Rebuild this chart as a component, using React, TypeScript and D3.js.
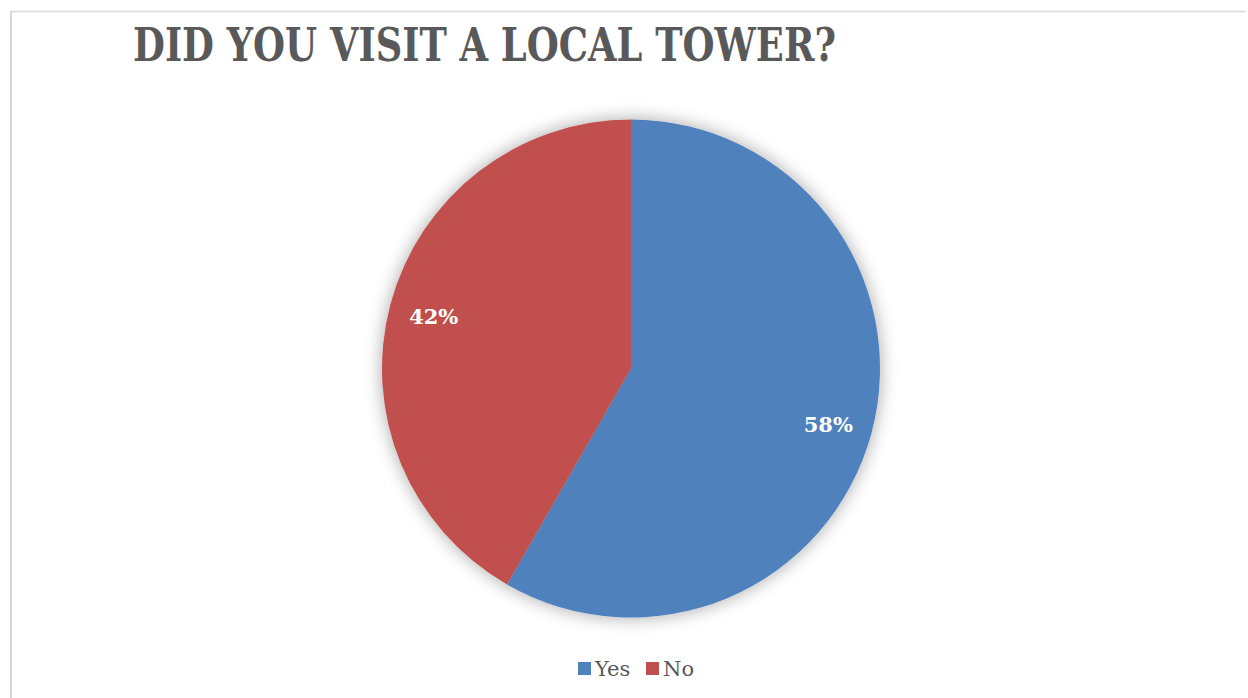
import React from "react";
import * as d3 from "d3";

const categories = ["Yes", "No"];
const values = [58.3, 41.7];
const colors = ["#4F81BD", "#C0504D"];
const titleText = "DID YOU VISIT A LOCAL TOWER?";

export default function App() {
  const W = 1248, H = 698;
  const cx = 631, cy = 368.5, R = 249;
  const pie = d3.pie<number>().sort(null).value((d) => d);
  const arcs = pie(values);
  const arcGen = d3.arc<d3.PieArcDatum<number>>().innerRadius(0).outerRadius(R);
  const labelArc = d3.arc<d3.PieArcDatum<number>>().innerRadius(R * 0.82).outerRadius(R * 0.82);
  const total = d3.sum(values);
  const legendX = [578, 646];
  return (
    <svg width={W} height={H} style={{ position: "absolute", left: 0, top: 0 }}>
      <defs>
        <filter id="sh" x="-30%" y="-30%" width="160%" height="160%">
          <feGaussianBlur in="SourceAlpha" stdDeviation="9" />
          <feComponentTransfer><feFuncA type="linear" slope="0.35" /></feComponentTransfer>
          <feMerge><feMergeNode /><feMergeNode in="SourceGraphic" /></feMerge>
        </filter>
      </defs>
      <rect x={0} y={0} width={W} height={H} fill="#fff" />
      <line x1={10} y1={11.5} x2={1246} y2={11.5} stroke="#d9d9d9" strokeWidth={1.5} />
      <line x1={11} y1={11} x2={11} y2={H} stroke="#d9d9d9" strokeWidth={2} />
      <text x={133} y={61} fontFamily="'DejaVu Serif', serif" fontWeight="bold" fontSize={47}
        fill="#595959" textLength={703} lengthAdjust="spacingAndGlyphs">{titleText}</text>
      <g transform={`translate(${cx},${cy})`}>
        <g filter="url(#sh)">
          {arcs.map((a, i) => (
            <path key={i} d={arcGen(a) || ""} fill={colors[i]} />
          ))}
        </g>
        {arcs.map((a, i) => {
          const [x, y] = labelArc.centroid(a);
          return (
            <text key={"l" + i} x={x} y={y + (i === 0 ? 3 : 0)} dy="0.37em" textAnchor="middle"
              fontFamily="'DejaVu Serif', serif" fontWeight="bold" fontSize={21} fill="#fff">
              {Math.round((values[i] / total) * 100)}%
            </text>
          );
        })}
      </g>
      {categories.map((c, i) => (
        <g key={c}>
          <rect x={legendX[i]} y={662} width={13} height={13} fill={colors[i]} />
          <text x={legendX[i] + 17} y={676} fontFamily="'DejaVu Serif', serif" fontSize={21} fill="#595959">{c}</text>
        </g>
      ))}
    </svg>
  );
}
